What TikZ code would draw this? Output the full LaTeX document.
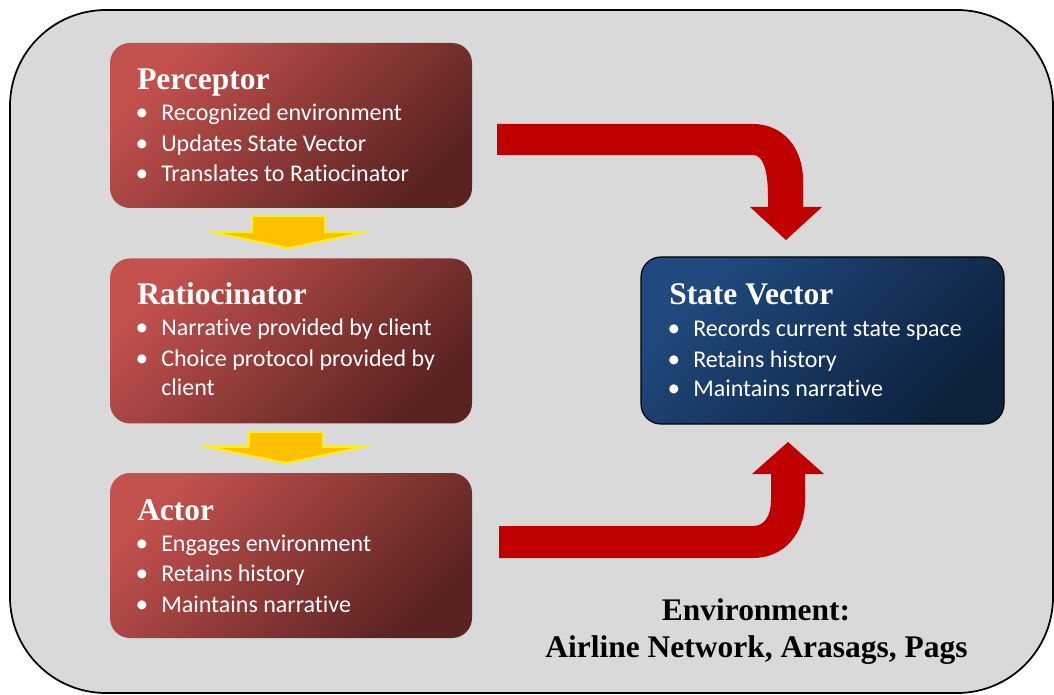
\documentclass[tikz,border=0pt]{standalone}
\usepackage{fontspec}
\setmainfont{Carlito}[Ligatures={NoCommon}]
\newfontfamily\tnr{Liberation Serif}
\definecolor{framegray}{HTML}{D9D9D9}
\definecolor{redA}{HTML}{C3514E}
\definecolor{redB}{HTML}{5A2321}
\definecolor{blueA}{HTML}{204A7F}
\definecolor{blueB}{HTML}{0D213D}
\definecolor{arrowred}{HTML}{C00000}
\definecolor{amber}{HTML}{FFC000}
\tikzset{
  redbox/.style={rounded corners=15pt, minimum width=271.5pt, minimum height=123.75pt,
    top color=redA, bottom color=redB, shading angle=45, inner sep=0},
  bluebox/.style={rounded corners=15pt, minimum width=272.25pt, minimum height=125.25pt,
    top color=blueA, bottom color=blueB, shading angle=45, draw=black, line width=0.9pt, inner sep=0},
  ttl/.style={anchor=base west, inner sep=0, text=white, font=\tnr\bfseries\fontsize{23.6}{28}\selectfont},
  itm/.style={anchor=base west, inner sep=0, text=white, font=\fontsize{18}{21}\selectfont},
  bul/.style={anchor=base, inner sep=0, text=white, font=\fontsize{19}{21}\selectfont},
  envtxt/.style={anchor=base, inner sep=0, text=black, font=\tnr\bfseries\fontsize{23.6}{28}\selectfont},
  blockred/.style={fill=arrowred, draw=none},
  blockyel/.style={fill=amber, draw=yellow, line width=1.4pt, line join=miter},
}
\begin{document}
\begin{tikzpicture}[x=0.75pt,y=-0.75pt]
\useasboundingbox (0,0) rectangle (1054,695);
\fill[white] (0,0) rectangle (1054,695);
\draw[fill=framegray, line width=1.3pt, rounded corners=72pt] (10,10) rectangle (1053,693);

% boxes
\node[redbox] (perc) at (291,125.5) {};
\node[redbox] (rat) at (291,341) {};
\node[redbox] (act) at (291,555.5) {};
\node[bluebox] (sv) at (822.5,340.5) {};

% Perceptor
\node[ttl] (perct) at (137,90) {Perceptor};
\node[bul] (pb1) at (142,121) {•};
\node[itm] (pi1) at (161,121) {Recognized environment};
\node[bul] (pb2) at (142,152) {•};
\node[itm] (pi2) at (161,152) {Updates State Vector};
\node[bul] (pb3) at (142,182) {•};
\node[itm] (pi3) at (161,182) {Translates to Ratiocinator};

% Ratiocinator
\node[ttl] (ratt) at (137,305) {Ratiocinator};
\node[bul] (rb1) at (142,336) {•};
\node[itm] (ri1) at (161,336) {Narrative provided by client};
\node[bul] (rb2) at (142,367) {•};
\node[itm] (ri2) at (161,367) {Choice protocol provided by};
\node[itm] (ri3) at (161,396) {client};

% Actor
\node[ttl] (actt) at (137,520) {Actor};
\node[bul] (ab1) at (142,551) {•};
\node[itm] (ai1) at (161,551) {Engages environment};
\node[bul] (ab2) at (142,581) {•};
\node[itm] (ai2) at (161,581) {Retains history};
\node[bul] (ab3) at (142,612) {•};
\node[itm] (ai3) at (161,612) {Maintains narrative};

% State Vector
\node[ttl] (svt) at (669,305) {State Vector};
\node[bul] (sb1) at (674,337) {•};
\node[itm] (si1) at (693,337) {Records current state space};
\node[bul] (sb2) at (674,368) {•};
\node[itm] (si2) at (693,368) {Retains history};
\node[bul] (sb3) at (674,397) {•};
\node[itm] (si3) at (693,397) {Maintains narrative};

% Environment
\node[envtxt] (env1) at (756,620) {Environment:};
\node[envtxt] (env2) at (756.5,657) {Airline Network, Arasags, Pags};

% yellow down arrows
\path[blockyel] (252,216) -- (325,216) -- (325,232) -- (365,232) -- (288,248) -- (212,232) -- (252,232) -- cycle;
\path[blockyel] (249,432) -- (323,432) -- (323,447) -- (362,447) -- (286,463) -- (209,447) -- (249,447) -- cycle;

% red bent arrows
\path[blockred] (497,124) -- (753,124) .. controls (783,124) and (803,148) .. (803,180)
  -- (803,207) -- (822,207) -- (786,240) -- (750,207) -- (768,207) -- (768,197)
  .. controls (768,170) and (763,155) .. (753,155) -- (497,155) -- cycle;
\path[blockred] (499,526) -- (753,526) .. controls (765,526) and (771,515) .. (771,500)
  -- (771,474) -- (752,474) -- (788,442) -- (824,474) -- (805,474) -- (805,500)
  .. controls (805,535) and (783,558) .. (753,558) -- (499,558) -- cycle;
\end{tikzpicture}
\end{document}
